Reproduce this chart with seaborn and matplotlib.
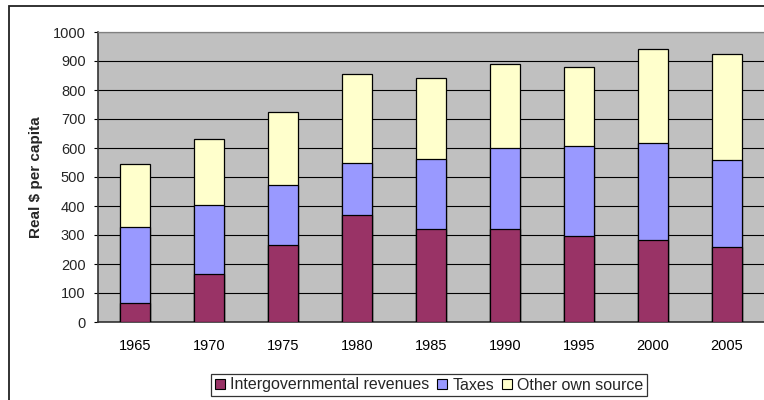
import numpy as np
import pandas as pd
import matplotlib
matplotlib.use("Agg")
import matplotlib.pyplot as plt
import matplotlib.patches as mpatches
import seaborn as sns

years = ["1965", "1970", "1975", "1980", "1985", "1990", "1995", "2000", "2005"]
intergov = [65, 167, 265, 368, 319, 319, 295, 284, 257]
taxes = [261, 237, 206, 182, 244, 281, 313, 334, 302]
other = [218, 227, 253, 306, 277, 288, 272, 323, 364]
series_names = ["Intergovernmental revenues", "Taxes", "Other own source"]
colors = ["#993366", "#9999FF", "#FFFFCC"]
yticks = [0, 100, 200, 300, 400, 500, 600, 700, 800, 900, 1000]

sns.set_theme(style="white")
plt.rcParams["font.family"] = ["Liberation Sans", "DejaVu Sans"]

df = pd.DataFrame({"year": years, "intergov": intergov, "taxes": taxes, "other": other})
df["c1"] = df["intergov"]
df["c2"] = df["intergov"] + df["taxes"]
df["c3"] = df["c2"] + df["other"]

fig = plt.figure(figsize=(7.64, 4.0), dpi=100)
ax = fig.add_axes([98 / 764, 78 / 400, 666 / 764, 290 / 400])
ax.set_facecolor("#C0C0C0")

for col, c in zip(["c3", "c2", "c1"], colors[::-1]):
    sns.barplot(data=df, x="year", y=col, color=c, width=0.41, ax=ax,
                edgecolor="black", linewidth=0.9, saturation=1, zorder=3)

ax.set_ylim(0, 1000)
ax.set_xlim(-0.5, len(years) - 0.5)
ax.set_yticks(yticks)
ax.set_yticklabels([str(v) for v in yticks], fontsize=10.5)
ax.set_xticks(range(len(years)))
ax.set_xticklabels(years, fontsize=10.5)
ax.set_xticks(np.arange(0.5, len(years) - 0.5, 1.0), minor=True)
ax.tick_params(axis="x", which="major", length=0, pad=12, colors="black")
ax.tick_params(axis="x", which="minor", length=4, width=0.8, color="black", direction="out")
ax.tick_params(axis="y", which="major", length=3, width=0.8, color="black", pad=6, left=True)
ax.yaxis.grid(True, color="black", linewidth=0.8, zorder=1)
ax.set_axisbelow(True)
ax.set_xlabel("")
ax.set_ylabel("Real $ per capita", fontsize=11, fontweight="bold", labelpad=7)

ax.spines["right"].set_visible(False)
ax.spines["top"].set_color("#808080")
ax.spines["top"].set_linewidth(0.9)
ax.spines["left"].set_color("#333333")
ax.spines["left"].set_linewidth(1.2)
ax.spines["bottom"].set_color("#333333")
ax.spines["bottom"].set_linewidth(1.2)

handles = [mpatches.Patch(facecolor=c, edgecolor="black", linewidth=0.8) for c in colors]
leg = fig.legend(handles, series_names, loc="center", bbox_to_anchor=(429 / 764, 15 / 400),
                 ncol=3, frameon=True, fancybox=False, fontsize=11.5,
                 handlelength=0.65, handleheight=0.65, handletextpad=0.3,
                 columnspacing=0.5, borderpad=0.22, borderaxespad=0)
leg.get_frame().set_edgecolor("black")
leg.get_frame().set_linewidth(0.9)

border = mpatches.Rectangle((9 / 764, -0.05), 1.2, (400 - 6) / 400 + 0.05,
                            transform=fig.transFigure, fill=False,
                            edgecolor="#222222", linewidth=1.3)
fig.patches.append(border)

fig.savefig("out.png", dpi=100)
